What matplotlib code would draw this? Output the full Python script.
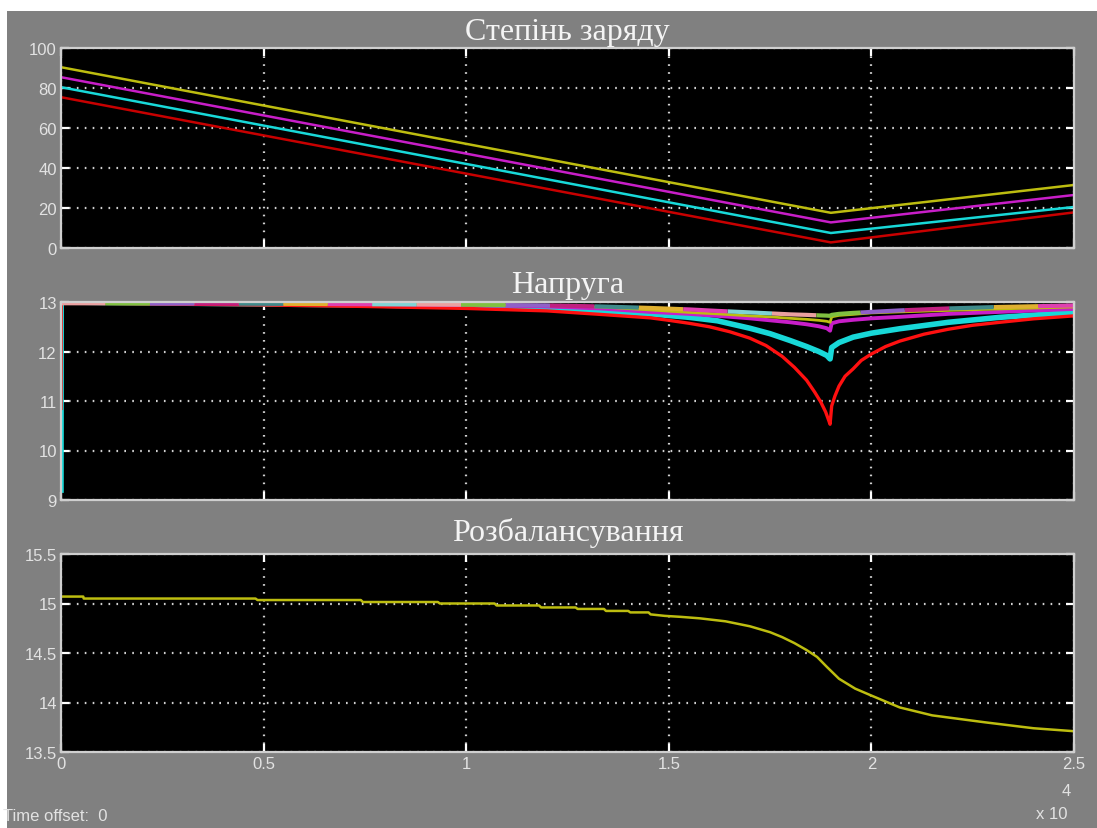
import matplotlib
matplotlib.use("Agg")
import matplotlib.pyplot as plt
from matplotlib.patches import Rectangle
from matplotlib import font_manager

# ---- data -------------------------------------------------------------
# State of charge, %
soc_t = [0, 19000, 25000]
soc_yellow = [90.4, 17.6, 31.5]
soc_magenta = [85.4, 12.8, 26.5]
soc_cyan = [80.4, 7.5, 20.5]
soc_red = [75.4, 2.8, 17.8]

# Cell voltages, V
volt_t = [0, 5, 2500, 5000, 7500, 10000, 12000, 13300, 14540, 15500, 16200,
          17000, 17500, 18000, 18400, 18700, 18900, 18980, 19020, 19200,
          19550, 20000, 20700, 21900, 23170, 25000]
volt_cyan = [9.2, 13.0, 12.98, 12.96, 12.94, 12.91, 12.87, 12.82, 12.76,
             12.69, 12.62, 12.47, 12.36, 12.22, 12.1, 12.0, 11.92, 11.85,
             12.08, 12.18, 12.29, 12.37, 12.46, 12.59, 12.69, 12.79]
volt_magenta = [12.99, 12.99, 12.985, 12.975, 12.96, 12.94, 12.91, 12.87,
                12.8, 12.76, 12.72, 12.67, 12.63, 12.59, 12.55, 12.51, 12.47,
                12.42, 12.57, 12.61, 12.64, 12.67, 12.7, 12.76, 12.8, 12.86]
volt_yellow = [12.985, 12.985, 12.98, 12.975, 12.965, 12.95, 12.93, 12.9,
               12.84, 12.79, 12.76, 12.72, 12.7, 12.67, 12.65, 12.63, 12.61,
               12.59, 12.7, 12.73, 12.75, 12.78, 12.8, 12.83, 12.86, 12.9]
volt_pack = [12.975, 12.975, 12.97, 12.965, 12.955, 12.945, 12.93, 12.91,
             12.88, 12.85, 12.82, 12.79, 12.77, 12.75, 12.74, 12.73, 12.725,
             12.72, 12.74, 12.76, 12.78, 12.8, 12.83, 12.87, 12.9, 12.93]

red_t = [0, 5, 2500, 5000, 7500, 10000, 12000, 13300, 14540, 15000, 15500,
         16000, 16500, 17000, 17400, 17800, 18100, 18400, 18600, 18750,
         18870, 18950, 18980, 19020, 19100, 19200, 19350, 19550, 19750,
         20000, 20350, 20700, 21300, 21900, 22500, 23170, 24000, 25000]
volt_red = [10.85, 12.98, 12.96, 12.94, 12.91, 12.87, 12.82, 12.75, 12.68,
            12.63, 12.57, 12.50, 12.40, 12.27, 12.12, 11.90, 11.68, 11.42,
            11.18, 10.98, 10.78, 10.6, 10.53, 10.9, 11.1, 11.3, 11.5, 11.65,
            11.82, 11.95, 12.1, 12.21, 12.35, 12.45, 12.53, 12.59, 12.66,
            12.72]

# Imbalance
bal_t = [0, 550, 560, 4800, 4850, 7400, 7450, 9300, 9350, 10700, 10750,
         11800, 11850, 12700, 12750, 13400, 13450, 14000, 14050, 14500,
         14550, 14900, 15300, 15770, 16400, 17000, 17500, 17800, 18100,
         18400, 18660, 18900, 19200, 19600, 20000, 20700, 21500, 22800,
         24000, 25000]
bal_v = [15.07, 15.07, 15.05, 15.05, 15.035, 15.035, 15.015, 15.015, 15.0,
         15.0, 14.98, 14.98, 14.96, 14.96, 14.945, 14.945, 14.925, 14.925,
         14.91, 14.91, 14.89, 14.875, 14.865, 14.85, 14.82, 14.77, 14.71,
         14.66, 14.60, 14.53, 14.46, 14.36, 14.24, 14.14, 14.07, 13.95,
         13.87, 13.80, 13.74, 13.71]

titles = ["Степінь заряду", "Напруга", "Розбалансування"]
x_ticks = [0, 5000, 10000, 15000, 20000, 25000]
x_labels = ["0", "0.5", "1", "1.5", "2", "2.5"]
soc_ticks = [0, 20, 40, 60, 80, 100]
volt_ticks = [9, 10, 11, 12, 13]
bal_ticks = [13.5, 14, 14.5, 15, 15.5]
bal_labels = ["13.5", "14", "14.5", "15", "15.5"]

# ---- style ------------------------------------------------------------
W, H = 1097, 829
DPI = 100
BG = "#808080"
FRAME = "#cfcfcf"
TXT = "#e2e2e2"
YELLOW = "#bdbd10"
MAGENTA = "#c81ec8"
CYAN = "#18d8d8"
RED_DARK = "#c80000"
RED = "#ff1010"
PACK_COLORS = ["#eaa0a0", "#80d4d4", "#e040b0", "#e0b030",
               "#3f8a8a", "#c02080", "#9060c8", "#80c040"]

installed = {f.name for f in font_manager.fontManager.ttflist}
tick_family = ["Liberation Sans Narrow", "DejaVu Sans Condensed",
               "Liberation Sans", "DejaVu Sans"]
tick_family = [f for f in tick_family if f in installed] or ["DejaVu Sans"]
serif_family = ["Liberation Serif", "DejaVu Serif"]

plt.rcParams["lines.scale_dashes"] = False

fig = plt.figure(figsize=(W / DPI, H / DPI), dpi=DPI, facecolor="white")
fig.patches.append(Rectangle((7 / W, 0), 1 - 7 / W, 1 - 12 / H,
                             transform=fig.transFigure, facecolor=BG,
                             edgecolor="none", zorder=-10))

left = 61 / W
width = (1074 - 61) / W
boxes = [(49, 249), (303, 501), (555, 753)]
axes = []
for top, bot in boxes:
    ax = fig.add_axes([left, 1 - bot / H, width, (bot - top) / H])
    ax.set_facecolor("black")
    for sp in ax.spines.values():
        sp.set_color(FRAME)
        sp.set_linewidth(1.6)
    ax.set_xlim(0, 25000)
    ax.set_xticks(x_ticks)
    ax.tick_params(direction="in", length=6, width=1.6, color="white",
                   top=True, right=True, labelcolor=TXT, labelsize=12,
                   pad=3)
    ax.grid(True, color="#d0d0d0", linestyle=(0, (1.2, 4.5)), linewidth=1.6)
    axes.append(ax)

ax1, ax2, ax3 = axes

# State of charge
for vals, col in [(soc_red, RED_DARK), (soc_cyan, CYAN),
                  (soc_magenta, MAGENTA), (soc_yellow, YELLOW)]:
    ax1.plot(soc_t, vals, color=col, linewidth=1.8)
ax1.set_ylim(0, 100)
ax1.set_yticks(soc_ticks)

# Voltages
ax2.plot(volt_t, volt_cyan, color=CYAN, linewidth=4.0)
ax2.plot(red_t, volt_red, color=RED, linewidth=2.4)
ax2.plot(volt_t, volt_magenta, color=MAGENTA, linewidth=2.8)
ax2.plot(volt_t, volt_yellow, color=YELLOW, linewidth=2.0)
seg = 32
n = len(PACK_COLORS)
for i, col in enumerate(PACK_COLORS):
    ax2.plot(volt_t, volt_pack, color=col, linewidth=3.0,
             linestyle=(i * seg, (seg, (n - 1) * seg)))
ax2.set_ylim(9, 13)
ax2.set_yticks(volt_ticks)

# Imbalance
ax3.plot(bal_t, bal_v, color=YELLOW, linewidth=1.8)
ax3.set_ylim(13.5, 15.5)
ax3.set_yticks(bal_ticks)
ax3.set_yticklabels(bal_labels)

for ax in (ax1, ax2):
    ax.set_xticklabels([])
ax3.set_xticklabels(x_labels)

for ax in axes:
    for lab in ax.get_yticklabels() + ax.get_xticklabels():
        lab.set_family(tick_family)
        lab.set_fontsize(12)
        lab.set_color(TXT)

for ax, t, pad in zip(axes, titles, [6.5, 7, 10]):
    ax.set_title(t, family=serif_family, fontsize=23, color="#f4f4f4",
                 pad=pad)

fig.text(3 / W, 1 - 817 / H, "Time offset:  0", family=tick_family,
         fontsize=12, color=TXT, va="center", ha="left")
fig.text(1036 / W, 1 - 815 / H, "x 10", family=tick_family,
         fontsize=12, color=TXT, va="center", ha="left")
fig.text(1062 / W, 1 - 792 / H, "4", family=tick_family,
         fontsize=12, color=TXT, va="center", ha="left")

fig.savefig("out.png", dpi=DPI, facecolor=fig.get_facecolor())
